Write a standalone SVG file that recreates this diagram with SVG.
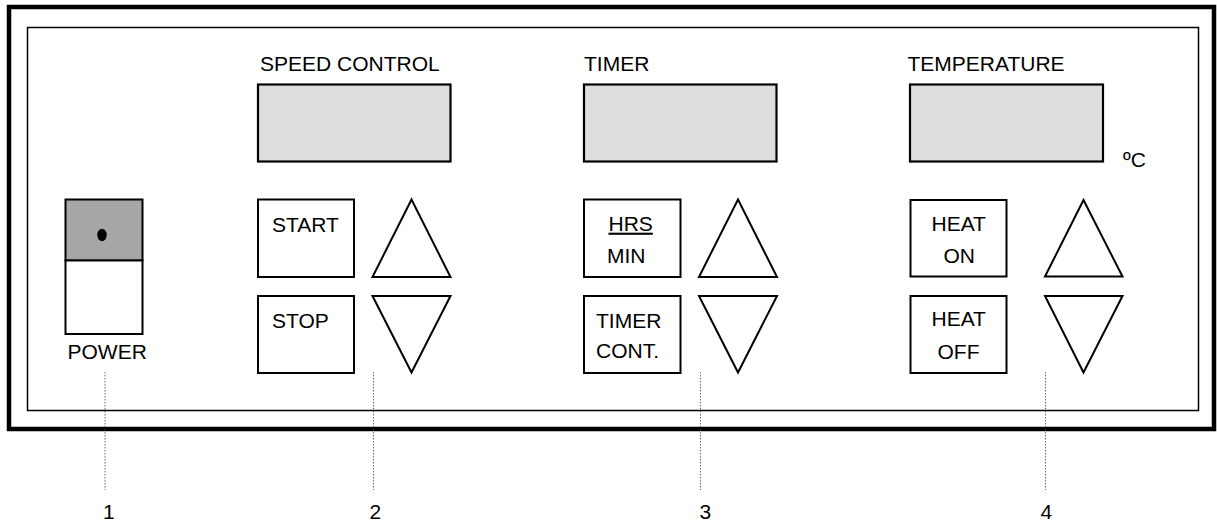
<svg xmlns="http://www.w3.org/2000/svg" width="1217" height="523" viewBox="0 0 1217 523">
<style>
text{font-family:"Liberation Sans",Arial,sans-serif;font-size:21px;fill:#000}
.btn{fill:#fff;stroke:#000;stroke-width:2}
.disp{fill:#dedede;stroke:#000;stroke-width:2.2}
.tri{fill:#fff;stroke:#000;stroke-width:2;stroke-linejoin:miter}
.lead{stroke:#444;stroke-width:0.8;stroke-dasharray:1.5,1.5;fill:none}
</style>
<rect width="1217" height="523" fill="#fff"/>
<g id="frame">
<rect x="9" y="7" width="1205" height="422" fill="none" stroke="#000" stroke-width="4.5"/>
<rect x="27.5" y="27.5" width="1171" height="383" fill="none" stroke="#000" stroke-width="1.5"/>
</g>
<g id="power">
<rect x="65.5" y="199.5" width="77" height="61" fill="#a6a6a6" stroke="#000" stroke-width="2"/>
<rect x="65.5" y="260.5" width="77" height="73.5" fill="#fff" stroke="#000" stroke-width="2"/>
<ellipse cx="102" cy="235" rx="4.7" ry="6.2" fill="#000"/>
<text x="67.5" y="359">POWER</text>
</g>
<g id="speed">
<text x="260" y="70.7">SPEED CONTROL</text>
<rect class="disp" x="258" y="84.5" width="192.5" height="77"/>
<rect class="btn" x="258" y="199.5" width="96" height="77.5"/>
<text x="272" y="231.7">START</text>
<rect class="btn" x="258" y="296" width="96" height="77"/>
<text x="272" y="327.7">STOP</text>
<polygon class="tri" points="411.5,199.5 450.5,277 372.5,277"/>
<polygon class="tri" points="372.5,296 450.5,296 411.5,372.5"/>
</g>
<g id="timer">
<text x="584" y="70.7">TIMER</text>
<rect class="disp" x="584" y="84.5" width="192.5" height="77"/>
<rect class="btn" x="584" y="199.5" width="96.5" height="77.5"/>
<text x="608.5" y="230.7" text-decoration="underline">HRS</text>
<text x="607" y="262.7">MIN</text>
<rect class="btn" x="584" y="296" width="96.5" height="77"/>
<text x="596" y="327.7">TIMER</text>
<text x="596" y="357.7">CONT.</text>
<polygon class="tri" points="738,199.5 777,277 699,277"/>
<polygon class="tri" points="699,296 777,296 738,372.5"/>
</g>
<g id="temperature">
<text x="907.5" y="70.7">TEMPERATURE</text>
<rect class="disp" x="910" y="84.5" width="193" height="77"/>
<text x="1123" y="166.7">ºC</text>
<rect class="btn" x="910.5" y="200" width="96" height="76.5"/>
<text x="931.5" y="230.7">HEAT</text>
<text x="943.5" y="262.7">ON</text>
<rect class="btn" x="910.5" y="296" width="96" height="77"/>
<text x="931.5" y="326">HEAT</text>
<text x="937.5" y="359.3">OFF</text>
<polygon class="tri" points="1083.5,200 1122.5,276.5 1045,276.5"/>
<polygon class="tri" points="1045,296 1122.5,296 1083.5,372.5"/>
</g>
<g id="connectors">
<line class="lead" x1="105" y1="372" x2="105" y2="490"/>
<line class="lead" x1="373.5" y1="372" x2="373.5" y2="490"/>
<line class="lead" x1="700.5" y1="372" x2="700.5" y2="490"/>
<line class="lead" x1="1045.5" y1="372" x2="1045.5" y2="490"/>
</g>
<g id="labels">
<text x="103" y="519.3">1</text>
<text x="369.5" y="519.3">2</text>
<text x="699.5" y="519.3">3</text>
<text x="1040.5" y="519.3">4</text>
</g>
</svg>
